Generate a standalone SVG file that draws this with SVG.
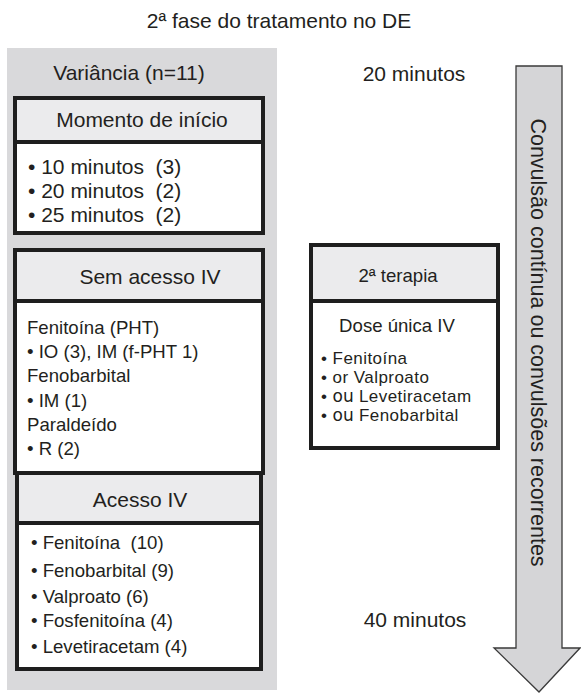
<svg xmlns="http://www.w3.org/2000/svg" width="581" height="693" viewBox="0 0 581 693">
<style>
text{font-family:"Liberation Sans",Arial,Helvetica,sans-serif;fill:#231f20}
.l{font-size:21px}
.m{font-size:18.6px}
.s{font-size:17px;letter-spacing:0.45px}
.ou{font-family:"DejaVu Sans",sans-serif;letter-spacing:0}
.c{text-anchor:middle}
.box{fill:#ffffff;stroke:#1e1e1e;stroke-width:4}
.hdr{fill:#ebebed;stroke:#1e1e1e;stroke-width:4}
</style>
<rect id="panel" x="7" y="48" width="270" height="642" fill="#d9d9db"/>
<text class="l c" x="279" y="28">2ª fase do tratamento no DE</text>
<text class="l c" x="129" y="80">Variância (n=11)</text>
<text class="l c" x="414" y="81">20 minutos</text>
<text class="l c" x="415" y="627">40 minutos</text>

<g id="momento">
<rect class="box" x="15" y="98" width="248" height="135"/>
<rect class="hdr" x="15" y="98" width="248" height="44"/>
<text class="l c" x="142" y="127">Momento de início</text>
<text class="l" x="28" y="174" xml:space="preserve">• 10 minutos  (3)</text>
<text class="l" x="28" y="198" xml:space="preserve">• 20 minutos  (2)</text>
<text class="l" x="28" y="222" xml:space="preserve">• 25 minutos  (2)</text>
</g>

<g id="sem-acesso">
<rect class="box" x="15" y="250" width="248" height="223"/>
<rect class="hdr" x="15" y="250" width="248" height="51"/>
<text class="l c" x="150" y="284">Sem acesso IV</text>
<text class="m" x="27" y="334">Fenitoína (PHT)</text>
<text class="m" x="27" y="358">• IO (3), IM (f-PHT 1)</text>
<text class="m" x="27" y="382">Fenobarbital</text>
<text class="m" x="27" y="407">• IM (1)</text>
<text class="m" x="27" y="431">Paraldeído</text>
<text class="m" x="27" y="455">• R (2)</text>
</g>

<g id="acesso">
<rect class="box" x="17" y="473" width="244" height="196"/>
<rect class="hdr" x="17" y="473" width="244" height="50"/>
<text class="l c" x="140" y="507">Acesso IV</text>
<text class="m" x="31" y="549" xml:space="preserve">• Fenitoína  (10)</text>
<text class="m" x="31" y="577">• Fenobarbital (9)</text>
<text class="m" x="31" y="603">• Valproato (6)</text>
<text class="m" x="31" y="627">• Fosfenitoína (4)</text>
<text class="m" x="31" y="653">• Levetiracetam (4)</text>
</g>

<g id="segunda-terapia">
<rect class="box" x="311" y="245" width="187" height="203"/>
<rect class="hdr" x="311" y="245" width="187" height="56"/>
<text class="m c" x="398" y="282">2ª terapia</text>
<text class="m c" x="397" y="332">Dose única IV</text>
<text class="s" x="321" y="364">• Fenitoína</text>
<text class="s" x="321" y="383">• or Valproato</text>
<text class="s" x="321" y="402">• <tspan class="ou">ou</tspan> Levetiracetam</text>
<text class="s" x="321" y="421">• <tspan class="ou">ou</tspan> Fenobarbital</text>
</g>

<g id="timeline-arrow">
<polygon points="516,66 562,66 562,648 580,648 539,692 494,648 516,648" fill="#d5d5d7" stroke="#3a3a3a" stroke-width="1.3"/>
<text class="c" font-size="21.5" transform="translate(531,342.5) rotate(90)">Convulsão contínua ou convulsões recorrentes</text>
</g>
</svg>
